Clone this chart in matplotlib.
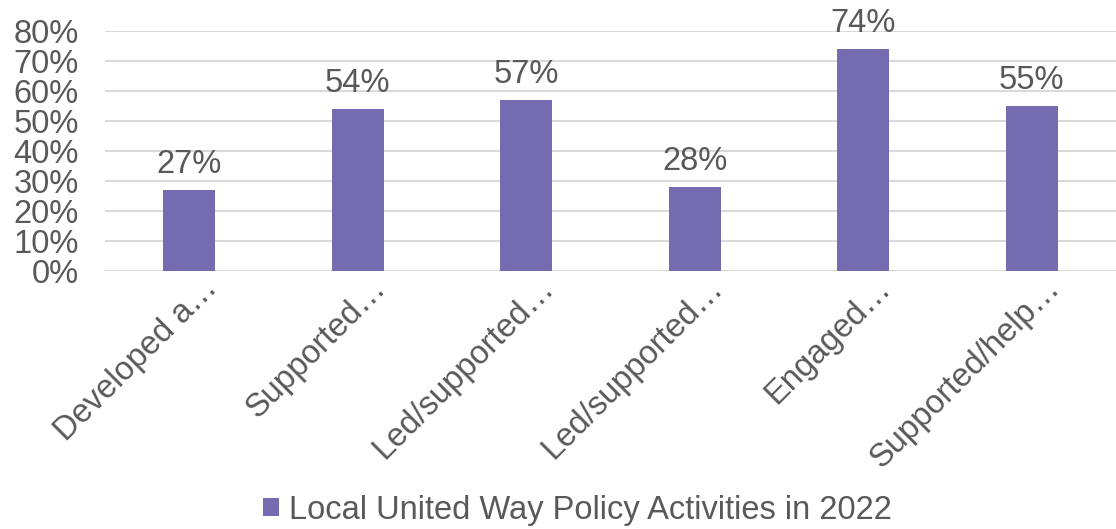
import matplotlib.pyplot as plt
from matplotlib.ticker import PercentFormatter

plt.rcParams['font.family'] = ['Liberation Sans', 'DejaVu Sans']

# Data
categories = ['Developed a…', 'Supported…', 'Led/supported…', 'Led/supported…', 'Engaged…', 'Supported/help…']
values = [0.27, 0.54, 0.57, 0.28, 0.74, 0.55]
series_name = 'Local United Way Policy Activities in 2022'

BAR_COLOR = '#756BB1'
TEXT_COLOR = '#595959'
GRID_COLOR = '#D9D9D9'
FS = 23.5

fig = plt.figure(figsize=(11.16, 5.29), dpi=100)
ax = fig.add_axes([105 / 1116, (529 - 271) / 529, 1011 / 1116, 240 / 529])

x = list(range(len(categories)))
bars = ax.bar(x, values, width=0.31, color=BAR_COLOR, label=series_name, zorder=3)

for xi, v in zip(x, values):
    ax.annotate(f'{v:.0%}', (xi, v), xytext=(0, 12), textcoords='offset points',
                ha='center', va='baseline', fontsize=FS, color=TEXT_COLOR, clip_on=False)

ax.set_xlim(-0.5, len(categories) - 0.5)
ax.set_ylim(0, 0.8)
ax.set_yticks([i / 10 for i in range(9)])
ax.yaxis.set_major_formatter(PercentFormatter(1.0, decimals=0))
ax.grid(axis='y', color=GRID_COLOR, linewidth=1.5, zorder=0)
for s in ax.spines.values():
    s.set_visible(False)
ax.tick_params(axis='y', length=0, labelsize=FS, labelcolor=TEXT_COLOR, pad=19)
ax.tick_params(axis='x', length=0)
ax.set_xticks(x)
ax.set_xticklabels([])

# rotated category labels, right end anchored just below each bar
for xi, lab in zip(x, categories):
    ax.annotate(lab, (xi, 0), xytext=(21, -13), textcoords='offset points',
                rotation=45, rotation_mode='anchor', ha='right', va='baseline',
                fontsize=FS, color=TEXT_COLOR, annotation_clip=False)

leg = fig.legend(handles=[bars], labels=[series_name], loc='center',
                 bbox_to_anchor=(577 / 1116, 1 - 510 / 529), frameon=False, fontsize=FS,
                 handlelength=0.5, handleheight=0.5, handletextpad=0.3, labelcolor=TEXT_COLOR)

fig.savefig('out.png', dpi=100)
